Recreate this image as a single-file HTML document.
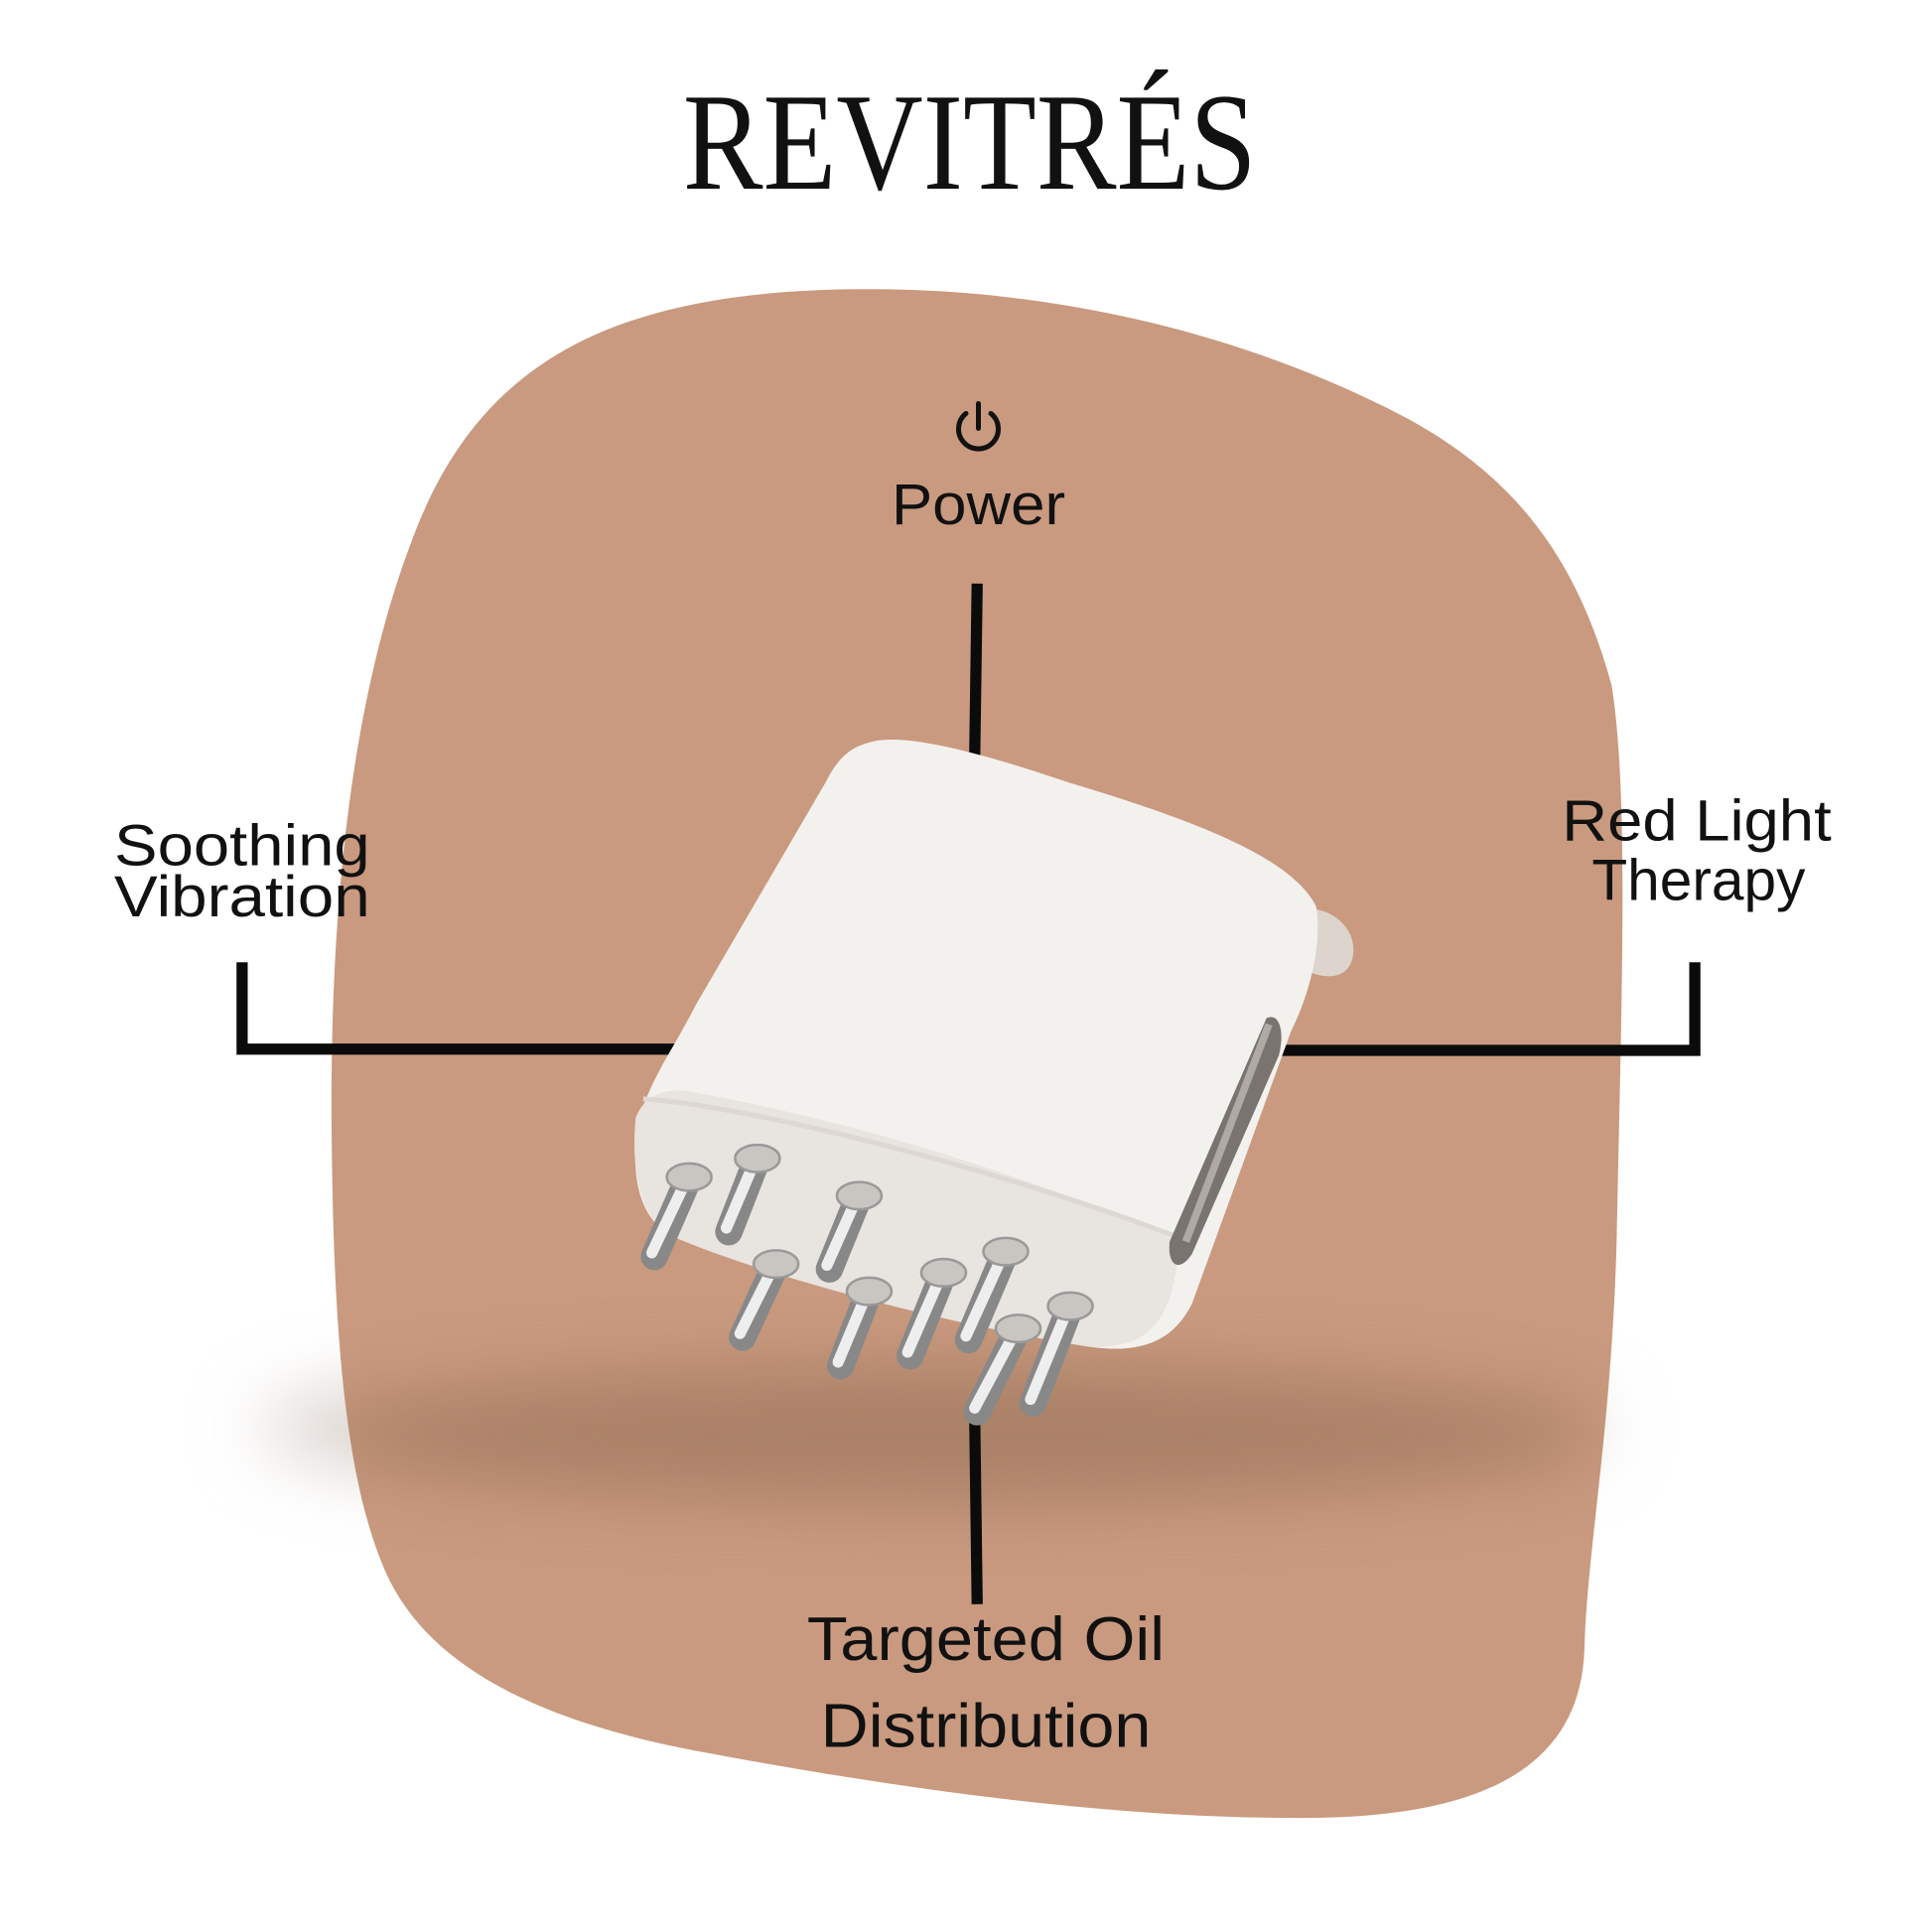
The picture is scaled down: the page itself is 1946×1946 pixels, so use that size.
<!DOCTYPE html>
<html><head><meta charset="utf-8"><style>
html,body{margin:0;padding:0;background:#fff}
svg{display:block}
</style></head><body>
<svg width="1946" height="1946" viewBox="0 0 1556 1556" xmlns="http://www.w3.org/2000/svg">
<defs>
<filter id="bl" x="-20%" y="-50%" width="140%" height="200%"><feGaussianBlur stdDeviation="28"/></filter>
<clipPath id="cp"><path d="M680,233 C850,230 1000,270 1120,330 C1220,380 1270,450 1298,552 C1312,640 1306,800 1302,1000 C1298,1150 1278,1250 1276,1330 C1272,1420 1200,1462 1060,1464 C900,1466 720,1440 560,1410 C430,1385 340,1340 308,1260 C275,1180 268,1050 267,900 C266,720 285,560 330,440 C380,300 480,237 680,233 Z"/></clipPath>
</defs>
<ellipse cx="750" cy="1150" rx="540" ry="60" fill="#d8d0ca" filter="url(#bl)"/>
<path d="M680,233 C850,230 1000,270 1120,330 C1220,380 1270,450 1298,552 C1312,640 1306,800 1302,1000 C1298,1150 1278,1250 1276,1330 C1272,1420 1200,1462 1060,1464 C900,1466 720,1440 560,1410 C430,1385 340,1340 308,1260 C275,1180 268,1050 267,900 C266,720 285,560 330,440 C380,300 480,237 680,233 Z" fill="#c99a7f"/>
<g clip-path="url(#cp)"><ellipse cx="770" cy="1155" rx="520" ry="55" fill="#a0785f" opacity="0.75" filter="url(#bl)"/></g>
<text x="550" y="152" textLength="462" lengthAdjust="spacingAndGlyphs" font-family="Liberation Serif, serif" font-size="112" fill="#111">REVITRÉS</text>
<g stroke="#0b0b0b" stroke-width="9" fill="none">
<line x1="787" y1="470" x2="785" y2="610"/>
<line x1="785" y1="1140" x2="787" y2="1292"/>
<polyline points="195,775 195,845 555,845"/>
<polyline points="1365,775 1365,846 1030,846"/>
</g>
<g stroke="#111" stroke-width="4" fill="none" stroke-linecap="round">
<path d="M778,333 A16,16 0 1 0 798,333"/><line x1="788" y1="325" x2="788" y2="345"/>
</g>
<g font-family="Liberation Sans, sans-serif" font-size="47" fill="#111">
<text x="718" y="422" textLength="140" lengthAdjust="spacingAndGlyphs">Power</text>
<text x="92" y="697" textLength="206" lengthAdjust="spacingAndGlyphs">Soothing</text>
<text x="92" y="738" textLength="206" lengthAdjust="spacingAndGlyphs">Vibration</text>
<text x="1258" y="677" textLength="217" lengthAdjust="spacingAndGlyphs">Red Light</text>
<text x="1282" y="725" textLength="172" lengthAdjust="spacingAndGlyphs">Therapy</text>
<text x="650" y="1337" textLength="288" lengthAdjust="spacingAndGlyphs" font-size="50">Targeted Oil</text>
<text x="661" y="1407" textLength="266" lengthAdjust="spacingAndGlyphs" font-size="50">Distribution</text>
</g>
<!-- device -->
<path d="M1040,735 C1060,725 1090,740 1090,765 C1090,790 1065,790 1050,780 Z" fill="#ddd5cd"/>
<path d="M700,598 C720,592 760,596 860,630 C960,660 1040,690 1060,730 C1065,760 1055,800 1040,830 L960,1050 C945,1080 920,1090 880,1085 C780,1070 620,1030 540,995 C515,980 510,950 512,920 C515,880 540,850 560,810 L665,630 C675,610 685,602 700,598 Z" fill="#f3f1ee"/>
<path d="M512,900 C520,880 540,875 560,880 C700,905 850,955 950,1000 C945,1060 930,1085 880,1085 C780,1070 620,1030 540,995 C515,980 508,940 512,900 Z" fill="#e8e4df"/>
<path d="M518,885 C600,890 800,940 945,995" stroke="#ddd8d2" stroke-width="4" fill="none"/>
<path d="M1020,820 C1030,815 1035,830 1030,850 L960,1010 C950,1025 940,1020 942,1000 Z" fill="#7a7470"/>
<path d="M1022,825 L955,1000" stroke="#b0aaa5" stroke-width="6"/>
<g stroke-linecap="round" fill="none">
<g stroke="#888" stroke-width="22">
<line x1="555" y1="948" x2="527" y2="1012"/><line x1="610" y1="933" x2="587" y2="992"/><line x1="692" y1="963" x2="668" y2="1022"/>
<line x1="625" y1="1018" x2="598" y2="1077"/><line x1="700" y1="1040" x2="677" y2="1100"/><line x1="760" y1="1025" x2="733" y2="1092"/>
<line x1="810" y1="1008" x2="780" y2="1079"/><line x1="820" y1="1070" x2="787" y2="1137"/><line x1="862" y1="1052" x2="832" y2="1130"/>
</g>
<g stroke="#eeeeee" stroke-width="9">
<line x1="553" y1="950" x2="525" y2="1009"/><line x1="608" y1="935" x2="585" y2="989"/><line x1="690" y1="965" x2="666" y2="1019"/>
<line x1="623" y1="1020" x2="596" y2="1074"/><line x1="698" y1="1042" x2="675" y2="1097"/><line x1="758" y1="1027" x2="731" y2="1089"/>
<line x1="808" y1="1010" x2="778" y2="1076"/><line x1="818" y1="1072" x2="785" y2="1134"/><line x1="860" y1="1054" x2="830" y2="1127"/>
</g>
</g>
<g fill="#c9c6c2" stroke="#999" stroke-width="2">
<ellipse cx="555" cy="948" rx="18" ry="11"/><ellipse cx="610" cy="933" rx="18" ry="11"/><ellipse cx="692" cy="963" rx="18" ry="11"/>
<ellipse cx="625" cy="1018" rx="18" ry="11"/><ellipse cx="700" cy="1040" rx="18" ry="11"/><ellipse cx="760" cy="1025" rx="18" ry="11"/>
<ellipse cx="810" cy="1008" rx="18" ry="11"/><ellipse cx="820" cy="1070" rx="18" ry="11"/><ellipse cx="862" cy="1052" rx="18" ry="11"/>
</g>
</svg>
</body></html>
